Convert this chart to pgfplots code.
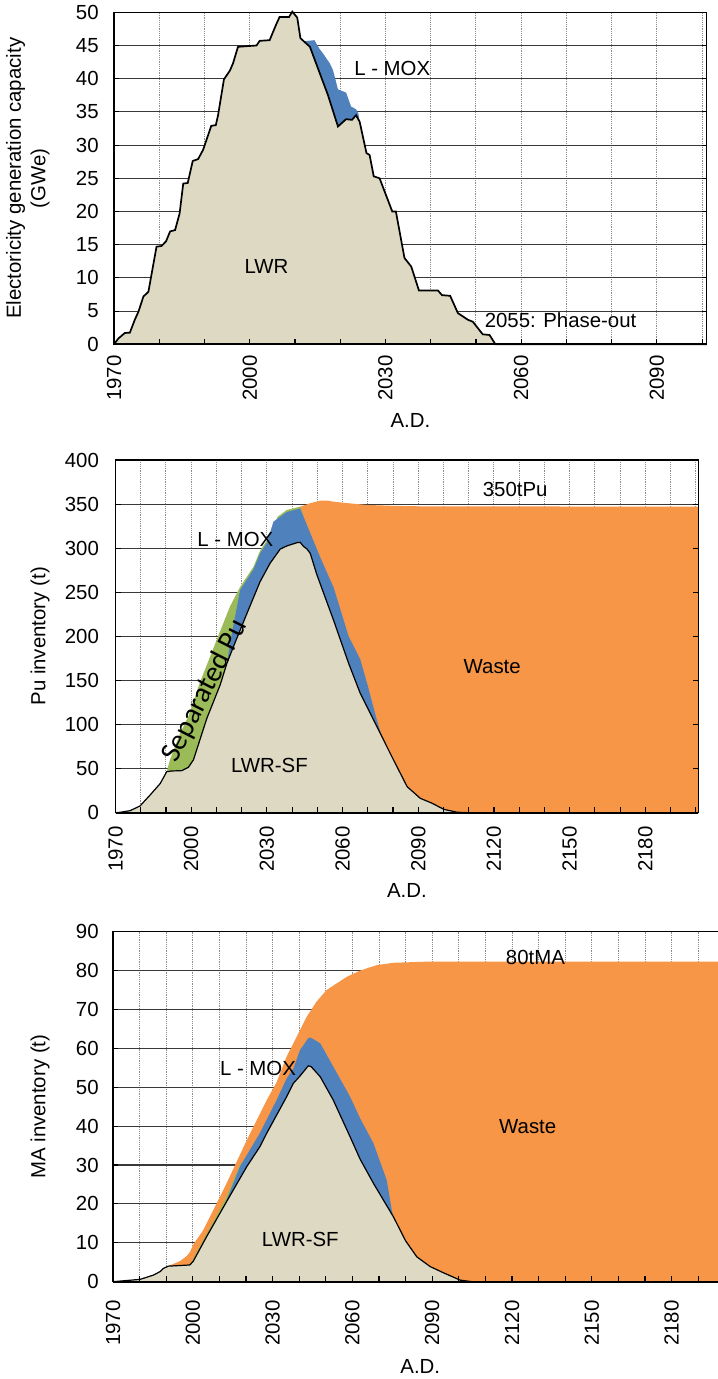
\documentclass[border=0pt]{standalone}
\usepackage{pgfplots}
\usepackage{pgfplotstable}
\pgfplotsset{compat=1.18}
\usepackage{fontspec}
\setmainfont{Liberation Sans}
\newfontfamily\carlito{Carlito}
\definecolor{lwr}{HTML}{DDD9C3}
\definecolor{mox}{HTML}{4F81BD}
\definecolor{sep}{HTML}{9BBB59}
\definecolor{waste}{HTML}{F79646}

\pgfplotstableread{
x y
1970 0
1971 0.9
1972.4 1.7
1973.5 1.75
1974.6 3.7
1975.4 4.9
1976.5 7.2
1977.6 7.9
1979.4 14.7
1980.5 14.8
1981.5 15.5
1982.4 17.0
1983.5 17.2
1984.5 19.7
1985.3 24.2
1986.3 24.3
1987.4 27.6
1988.6 27.9
1989.7 29.3
1991.5 32.9
1992.5 33.0
1993.0 34.5
1994.3 39.9
1995.6 41.2
1996.3 42.3
1997.4 44.8
2001.5 45.0
2002.2 45.7
2004.4 45.8
2005.8 48.1
2006.6 49.3
2008.7 49.3
2009.4 50.1
2010.5 49.2
2011.2 46.1
2013.3 44.8
2017.3 37.5
2019.5 32.8
2021.3 33.9
2022.6 33.8
2023.5 34.5
2024.3 33.5
2025.8 28.8
2026.5 28.5
2027.4 25.3
2028.7 25.0
2031.5 20.0
2032.3 20.0
2034.2 13.0
2035.7 11.7
2037.4 8.1
2041.6 8.1
2042.5 7.4
2044.3 7.3
2046.0 4.7
2048.2 3.7
2049.3 3.4
2051.5 1.5
2053.0 1.4
2054.3 0
2101 0
}\pOneLWR

\pgfplotstableread{
x y
2010.5 49.2
2011.0 47.0
2011.5 45.6
2014.3 45.8
2015.4 44.5
2016.2 43.8
2017.7 42.3
2018.4 41.3
2019.5 38.4
2021.3 37.9
2022.4 35.8
2023.5 35.4
2024.0 34.8
2024.3 33.5
}\pOneMOX

\pgfplotstableread{
x y
1970 0
1972 0.5
1975.8 2.3
1979.7 7.6
1983.7 20
1987.7 33
1990.3 46.5
1992.3 47.3
1996.3 47.7
1998.9 51.5
2000.9 60
2006.2 107
2011.5 145
2014.1 169
2016.7 188
2022.1 226
2027.3 262
2031.3 283
2035.3 299
2037.9 302.5
2041.9 306.2
2043.2 306.6
2044.5 302
2045.9 299
2047.2 294
2049.8 270
2056.4 218.5
2062.4 169.4
2067.0 135.4
2071.0 112.7
2075.6 86.2
2080.2 59.8
2085.6 29.5
2090.8 16.3
2095.5 10.7
2100.1 3.8
2105.4 0.5
2110 0
2201 0
}\pTwoLWR

\pgfplotstableread{
x y
2014.1 169
2016.1 203
2019.4 252.5
2024.7 276
2027.3 294
2030.0 306
2032.6 330
2037.9 341
2043.2 345
2047.2 317
2051.1 290
2055.1 264
2056.4 256
2062.4 200
2067.0 174
2069.7 147
2073.6 105
2075.6 86.2
}\pTwoMOX

\pgfplotstableread{
x y
1990.3 46.5
1991.6 60
1995.6 90
1999.0 110
2003.5 148
2007.5 177
2011.5 206
2015.4 234
2019.4 256
2024.7 279
2027.3 297
2030.0 309
2034.3 335.7
2037.9 343.3
2043.2 347
2044.5 337
}\pTwoSEP

\pgfplotstableread{
x y
2043.2 347
2047.2 351
2051.1 353.8
2054.4 353.8
2056.4 352.7
2062.0 351
2069.7 349
2080.0 348
2090.0 347.5
2201 347
}\pTwoWASTE

\pgfplotstableread{
x y
1970 0
1980.2 0.6
1985.2 1.7
1987.7 2.6
1988.9 3.4
1990.8 4.0
1998.9 4.3
2000.2 5.3
2005.2 11.6
2012.7 20.6
2020.3 29.6
2025.2 34.7
2027.8 38.2
2035.3 47.6
2037.8 51.0
2040.3 52.9
2043.4 55.5
2044.5 55.3
2047.9 52.7
2052.8 46.7
2059.1 37.3
2062.9 31.5
2067.9 25.3
2075.4 16.7
2080.0 10.5
2084.2 6.4
2089.2 3.9
2094.2 2.3
2100.5 0.4
2105 0
2201 0
}\pThreeLWR

\pgfplotstableread{
x y
2012.0 19.8
2012.7 21.0
2017.7 29.6
2025.2 38.2
2031.5 46.7
2035.3 52.3
2037.8 54.8
2040.3 59.6
2043.4 62.6
2044.1 62.8
2045.5 62.3
2047.9 61.3
2052.8 55.3
2059.1 47.6
2062.9 42.0
2067.9 35.6
2072.9 26.1
2074.8 18.4
2075.4 16.7
}\pThreeMOX

\pgfplotstableread{
x y
1998.9 4.3
2000.2 5.9
2005.2 12.3
2012.7 21.8
2017.7 30.1
2019.0 31.0
}\pThreeSEP

\pgfplotstableread{
x y
1990.3 4.0
1991.4 4.2
1995.2 5.3
1997.7 6.6
1998.9 7.6
2000.2 9.6
2003.9 13.2
2005.2 15.0
2012.7 25.3
2020.3 36.4
2027.8 46.7
2031.5 51.3
2035.3 57.9
2042.8 68.1
2046.5 72.0
2050.3 75.0
2057.9 78.4
2062.9 80.0
2069.1 81.4
2075.4 82.0
2087.9 82.3
2201 82.3
}\pThreeWASTE

\pgfplotsset{
  layers/tickstop/.define layer set={axis background,axis grid,main,axis ticks,axis lines,axis tick labels,axis descriptions,axis foreground}{
    grid style={/pgfplots/on layer=axis grid},
    tick style={/pgfplots/on layer=axis ticks},
    axis line style={/pgfplots/on layer=axis lines},
    label style={/pgfplots/on layer=axis descriptions},
    ticklabel style={/pgfplots/on layer=axis tick labels},
  },
  myaxis/.style={
    set layers=tickstop,
    scale only axis, anchor=south west, clip=false,
    /pgf/number format/assume math mode=true,
    tick align=inside,
    major tick length=2.6pt,
    xtick pos=bottom, ytick pos=both,
    xticklabel pos=bottom, yticklabel pos=left,
    xmajorgrids, ymajorgrids,
    x grid style={black!45, line width=0.5pt, dash pattern=on 0.6pt off 0.5pt},
    y grid style={black!78, line width=0.55pt},
    axis line style={black, line width=0.55pt},
    tick style={black, line width=0.55pt},
    xmin=1970,
  },
}

\begin{document}
\fontsize{10.2}{12.2}\selectfont
\begin{tikzpicture}[font=\fontsize{10.2}{12.2}\selectfont]

% ---------- Panel 1 ----------
\begin{axis}[myaxis,
  at={(57pt,517.35pt)}, width=296.35pt, height=166pt,
  xmax=2101, ymin=0, ymax=50,
  xtick={1970,1980,...,2100},
  xticklabels={1970,,,2000,,,2030,,,2060,,,2090,,},
  ytick={0,5,...,50},
  xticklabel style={inner sep=0pt, yshift=-5.35pt, rotate=90, anchor=east},
  yticklabel style={inner sep=0pt, xshift=-7.5pt, anchor=east},
  every axis y label/.style={at={(rel axis cs:0,0.5)}, xshift=-32pt, rotate=90, anchor=south, inner sep=0pt, align=center},
  every axis x label/.style={at={(rel axis cs:0.5,0)}, yshift=-38.2pt, anchor=center, inner sep=0pt},
  ylabel={Electoricity generation capacity\\(GWe)},
  xlabel={A.D.},
]
\addplot[fill=mox, draw=none] table {\pOneMOX} \closedcycle;
\addplot[fill=lwr, draw=none] table {\pOneLWR} \closedcycle;
\addplot[black, line width=0.85pt] table {\pOneLWR};
\draw[black, line width=1.1pt] (rel axis cs:0,0) -- (rel axis cs:1,0);
\node at (axis cs:2031.5,41.6) {L - MOX};
\node at (axis cs:2003.7,11.7) {LWR};
\node at (axis cs:2068.7,3.6) {2055: Phase-out};
\end{axis}

% ---------- Panel 2 ----------
\begin{axis}[myaxis,
  at={(57.75pt,283.15pt)}, width=291.4pt, height=176.35pt,
  xmax=2201, ymin=0, ymax=400,
  xtick={1970,1980,...,2200},
  xticklabels={1970,,,2000,,,2030,,,2060,,,2090,,,2120,,,2150,,,2180,,},
  ytick={0,50,...,400},
  xticklabel style={inner sep=0pt, yshift=-6.65pt, rotate=90, anchor=east},
  yticklabel style={inner sep=0pt, xshift=-8.1pt, anchor=east},
  every axis y label/.style={at={(rel axis cs:0,0.5)}, xshift=-32.75pt, rotate=90, anchor=south, inner sep=0pt},
  every axis x label/.style={at={(rel axis cs:0.5,0)}, yshift=-38.65pt, anchor=center, inner sep=0pt},
  ylabel={Pu inventory (t)},
  xlabel={A.D.},
]
\addplot[fill=waste, draw=none] table {\pTwoWASTE} \closedcycle;
\addplot[fill=sep, draw=none] table {\pTwoSEP} \closedcycle;
\addplot[fill=mox, draw=none] table {\pTwoMOX} \closedcycle;
\addplot[fill=lwr, draw=none] table {\pTwoLWR} \closedcycle;
\addplot[black, line width=0.6pt] table {\pTwoLWR};
\draw[black, line width=1.1pt] (rel axis cs:0,0) -- (rel axis cs:1,0);
\node at (axis cs:2128.4,366.7) {350tPu};
\node at (axis cs:2119.3,165.6) {Waste};
\node at (axis cs:2017.5,309.3) {L - MOX};
\node at (axis cs:2031,54.1) {LWR-SF};
\node[rotate=63, font=\carlito\fontsize{14.5}{16}\selectfont] at (axis cs:2005.5,138) {Separated Pu};
\end{axis}

% ---------- Panel 3 ----------
\begin{axis}[myaxis,
  at={(56.5pt,48.65pt)}, width=307.25pt, height=175pt,
  xmax=2201, ymin=0, ymax=90,
  xtick={1970,1980,...,2200},
  xticklabels={1970,,,2000,,,2030,,,2060,,,2090,,,2120,,,2150,,,2180,,},
  ytick={0,10,...,90},
  xticklabel style={inner sep=0pt, yshift=-9.2pt, rotate=90, anchor=east},
  yticklabel style={inner sep=0pt, xshift=-7pt, anchor=east},
  every axis y label/.style={at={(rel axis cs:0,0.5)}, xshift=-31.5pt, rotate=90, anchor=south, inner sep=0pt},
  every axis x label/.style={at={(rel axis cs:0.5,0)}, yshift=-42.5pt, anchor=center, inner sep=0pt},
  ylabel={MA inventory (t)},
  xlabel={A.D.},
]
\addplot[fill=waste, draw=none] table {\pThreeWASTE} \closedcycle;
\addplot[fill=sep, draw=none] table {\pThreeSEP} \closedcycle;
\addplot[fill=mox, draw=none] table {\pThreeMOX} \closedcycle;
\addplot[fill=lwr, draw=none] table {\pThreeLWR} \closedcycle;
\addplot[black, line width=0.6pt] table {\pThreeLWR};
\draw[black, line width=1.1pt] (rel axis cs:0,0) -- (rel axis cs:1,0);
\node at (axis cs:2128.8,83.4) {80tMA};
\node at (axis cs:2125.9,40) {Waste};
\node at (axis cs:2024.5,54.9) {L - MOX};
\node at (axis cs:2040.4,10.9) {LWR-SF};
\end{axis}

\pgfresetboundingbox
\useasboundingbox (0,0) rectangle (358.5pt,689.5pt);
\end{tikzpicture}
\end{document}
